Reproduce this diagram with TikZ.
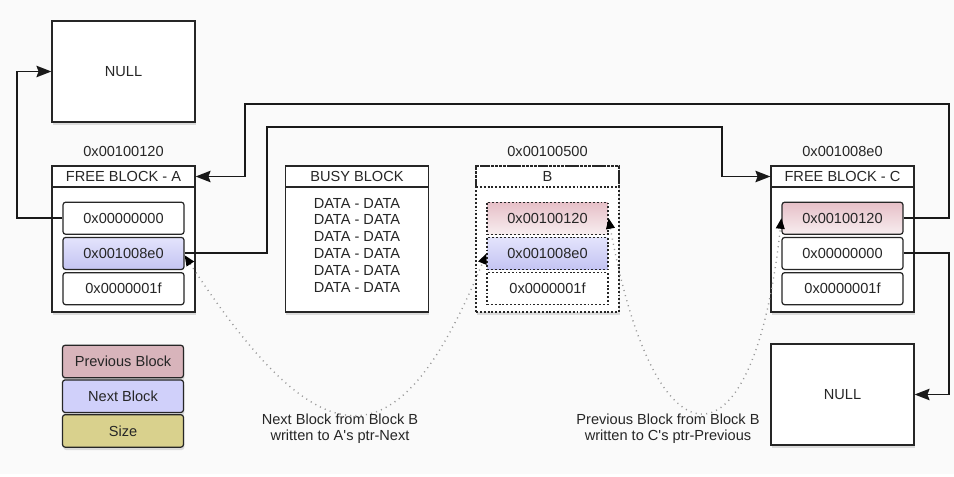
\documentclass[tikz,border=0pt]{standalone}
\usepackage{fontspec}
\setmainfont{Liberation Sans}
\usetikzlibrary{arrows.meta,shadows,positioning}
\definecolor{pagebg}{HTML}{FAFAFA}
\definecolor{prevtop}{HTML}{E6BFC7}
\definecolor{prevbot}{HTML}{F8EEF0}
\definecolor{nexttop}{HTML}{E4E4FC}
\definecolor{nextbot}{HTML}{C3C3F2}
\definecolor{prevkey}{HTML}{D8B4BB}
\definecolor{nextkey}{HTML}{D0D0FA}
\definecolor{sizekey}{HTML}{D9D18D}
\tikzstyle{memblock} = [draw=black!85, fill=white, line width=.7pt, minimum width=2.86cm, minimum height=2.92cm, drop shadow={shadow xshift=.5pt, shadow yshift=-1.6pt, opacity=.25}]
\tikzstyle{nullbox} = [memblock, minimum height=2.02cm]
\tikzstyle{blkhead} = [draw=black!85, line width=.7pt, minimum width=2.86cm, minimum height=.42cm, inner sep=0pt]
\tikzstyle{cell} = [draw=black!85, line width=.7pt, fill=white, rounded corners=1.5pt, minimum width=2.42cm, minimum height=.64cm, inner sep=0pt]
\tikzstyle{prevcell} = [cell, top color=prevtop, bottom color=prevbot]
\tikzstyle{nextcell} = [cell, top color=nexttop, bottom color=nextbot]
\tikzstyle{keycell} = [cell, minimum height=.65cm, drop shadow={shadow xshift=.5pt, shadow yshift=-1.6pt, opacity=.25}]
\tikzstyle{dotline} = [dash pattern=on 1.1pt off 1.1pt]
\tikzstyle{addr} = [inner sep=0pt]
\tikzstyle{datalines} = [inner sep=0pt, align=center, font=\fontsize{8.3}{9.65}\selectfont]
\tikzstyle{note} = [inner sep=0pt, align=center, font=\fontsize{8.3}{9.1}\selectfont]
\tikzstyle{wire} = [line width=1.1pt, black!90, -{Stealth[length=8.5pt,width=6.5pt,inset=1.2pt]}]
\tikzstyle{hint} = [line width=.8pt, gray!80, dash pattern=on .6pt off 2.4pt, {Triangle[length=6pt,width=5pt,color=black]}-{Triangle[length=6pt,width=5pt,color=black]}]

\begin{document}
\begin{tikzpicture}[x=0.02cm, y=-0.02cm, every node/.style={font=\fontsize{8.3}{9.6}\selectfont, text=black!85}]
\fill[pagebg] (0,0) rectangle (954,474);

% NULL targets
\node[nullbox] (nullA) at (123.5,71.5) {NULL};
\node[nullbox] (nullC) at (842.5,394.5) {NULL};

% free block A
\node[memblock] (blkA) at (123.5,239) {};
\node[blkhead, below=0pt of blkA.north] (hdrA) {FREE BLOCK - A};
\node[addr, above=.16cm of hdrA] (addrA) {0x00100120};
\node[cell, below=.28cm of hdrA] (a1) {0x00000000};
\node[nextcell, below=.04cm of a1] (a2) {0x001008e0};
\node[cell, below=.04cm of a2] (a3) {0x0000001f};

% busy block
\node[memblock] (busy) at (357,239) {};
\node[blkhead, below=0pt of busy.north] (hdrBusy) {BUSY BLOCK};
\node[datalines, below=.2cm of hdrBusy] (data) {DATA - DATA\\DATA - DATA\\DATA - DATA\\DATA - DATA\\DATA - DATA\\DATA - DATA};

% block B (being freed)
\node[memblock, dotline] (blkB) at (547.5,239) {};
\node[blkhead, dotline, below=0pt of blkB.north] (hdrB) {B};
\node[addr, above=.16cm of hdrB] (addrB) {0x00100500};
\node[prevcell, dotline, rounded corners=0pt, below=.28cm of hdrB] (b1) {0x00100120};
\node[nextcell, dotline, rounded corners=0pt, below=.04cm of b1] (b2) {0x001008e0};
\node[cell, dotline, rounded corners=0pt, below=.04cm of b2] (b3) {0x0000001f};

% free block C
\node[memblock] (blkC) at (842.5,239) {};
\node[blkhead, below=0pt of blkC.north] (hdrC) {FREE BLOCK - C};
\node[addr, above=.16cm of hdrC] (addrC) {0x001008e0};
\node[prevcell, below=.28cm of hdrC] (c1) {0x00100120};
\node[cell, below=.04cm of c1] (c2) {0x00000000};
\node[cell, below=.04cm of c2] (c3) {0x0000001f};

% legend
\node[keycell, fill=prevkey] (keyPrev) at (123,361.5) {Previous Block};
\node[keycell, fill=nextkey, below=.02cm of keyPrev] (keyNext) {Next Block};
\node[keycell, fill=sizekey, below=.02cm of keyNext] (keySize) {Size};

% pointers
\draw[wire] (a1.west) -- ++(-45,0) |- (nullA.west);
\draw[wire] (c1.east) -- ++(45,0) |- (245,104) |- (hdrA.east);
\draw[wire] (a2.east) -| (267,127) -- (722,127) |- (hdrC.west);
\draw[wire] (c2.east) -- ++(45,0) |- (nullC.east);

% unlink writes
\draw[hint] ([yshift=-1pt]a2.east) .. controls (325,470) and (400,463) .. (b2.west);
\draw[hint] (b1.east) .. controls (655,476) and (754,476) .. (c1.west);
\node[note] (noteA) at (340,429) {Next Block from Block B\\written to A\textquotesingle s ptr-Next};
\node[note] (noteC) at (668,429) {Previous Block from Block B\\written to C\textquotesingle s ptr-Previous};
\end{tikzpicture}
\end{document}
